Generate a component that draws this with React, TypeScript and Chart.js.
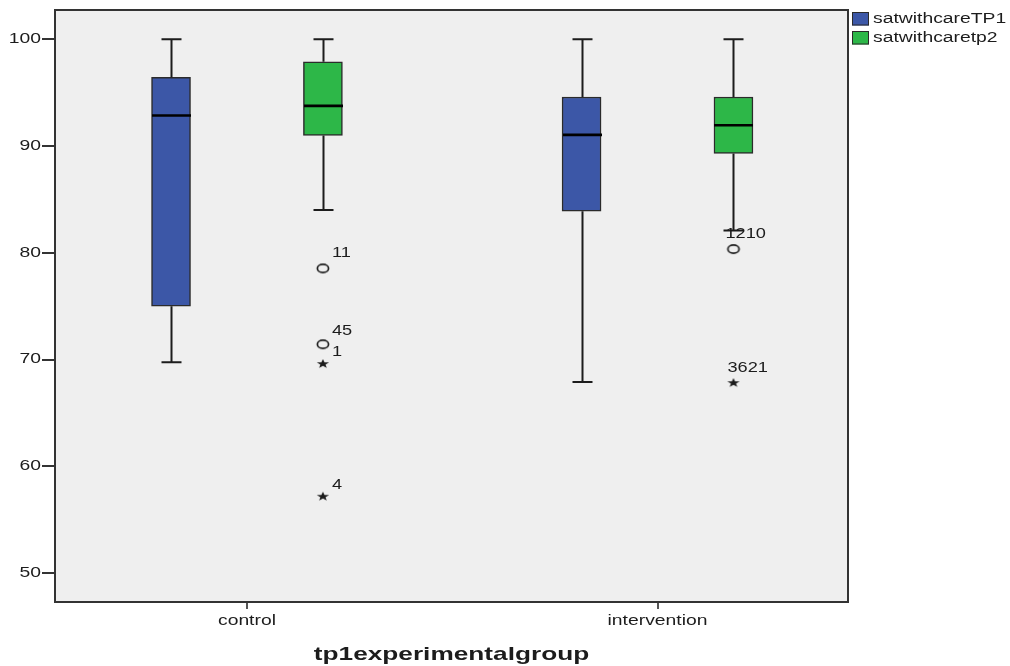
import React, { useEffect, useRef } from 'react';
import { Chart, registerables } from 'chart.js';

Chart.register(...registerables);

// ---- data ----
const groups = ['control', 'intervention'];
const seriesNames = ['satwithcareTP1', 'satwithcaretp2'];
const yTickValues = [50, 60, 70, 80, 90, 100];

// satwithcareTP1 five-number summaries per group
const tp1Low = [69.75, 67.9];
const tp1Q1 = [75.0, 83.9];
const tp1Median = [92.86, 91.05];
const tp1Q3 = [96.43, 94.6];
const tp1High = [100, 100];

// satwithcaretp2 five-number summaries per group
const tp2Low = [84.0, 82.1];
const tp2Q1 = [91.0, 89.3];
const tp2Median = [93.77, 91.95];
const tp2Q3 = [97.9, 94.6];
const tp2High = [100, 100];

// satwithcaretp2 outliers (circles) and extremes (stars), with case labels
const tp2OutlierGroup = [0, 0, 1];
const tp2OutlierValue = [78.54, 71.43, 80.35];
const tp2OutlierCase = ['11', '45', '1210'];
const tp2ExtremeGroup = [0, 0, 1];
const tp2ExtremeValue = [69.62, 57.19, 67.84];
const tp2ExtremeCase = ['1', '4', '3621'];

// ---- styling ----
const BLUE = '#3c57a7';
const GREEN = '#2db748';
const INK = '#1c1c1c';
const PLOT_BG = '#efefef';
const FONT = '"Liberation Sans", Arial, sans-serif';
const TEXT_SX = 1.38;
const SERIES_SHIFT = 0.185;
const outlierLabelShift = [[9, -15], [9, -13.5], [-8, -15]];
const extremeLabelShift = [[9, -11], [9, -11], [-6, -14]];

const seriesStats = [
  { low: tp1Low, q1: tp1Q1, med: tp1Median, q3: tp1Q3, high: tp1High, color: BLUE, shift: -SERIES_SHIFT },
  { low: tp2Low, q1: tp2Q1, med: tp2Median, q3: tp2Q3, high: tp2High, color: GREEN, shift: SERIES_SHIFT },
];

function stretchedText(ctx: CanvasRenderingContext2D, text: string, x: number, y: number, align: CanvasTextAlign, font: string, sx: number) {
  ctx.save();
  ctx.translate(x, y);
  ctx.scale(sx, 1);
  ctx.font = font;
  ctx.fillStyle = INK;
  ctx.textAlign = align;
  ctx.textBaseline = 'middle';
  ctx.fillText(text, 0, 0);
  ctx.restore();
}

function makeRing(): HTMLCanvasElement {
  const c = document.createElement('canvas');
  c.width = 16;
  c.height = 12;
  const g = c.getContext('2d')!;
  g.strokeStyle = INK;
  g.lineWidth = 1.7;
  g.beginPath();
  g.ellipse(8, 6, 5.6, 4.1, 0, 0, Math.PI * 2);
  g.stroke();
  return c;
}

function makeStar(): HTMLCanvasElement {
  const c = document.createElement('canvas');
  c.width = 14;
  c.height = 11;
  const g = c.getContext('2d')!;
  g.fillStyle = INK;
  g.translate(7, 5.8);
  g.scale(1.35, 1);
  g.beginPath();
  for (let i = 0; i < 10; i++) {
    const r = i % 2 === 0 ? 4.8 : 2.0;
    const a = -Math.PI / 2 + (i * Math.PI) / 5;
    const px = r * Math.cos(a);
    const py = r * Math.sin(a);
    if (i === 0) g.moveTo(px, py);
    else g.lineTo(px, py);
  }
  g.closePath();
  g.fill();
  return c;
}

const boxplotPlugin = {
  id: 'boxplotDecor',
  beforeDraw(chart: any) {
    const { ctx, chartArea: a } = chart;
    ctx.save();
    ctx.fillStyle = '#ffffff';
    ctx.fillRect(0, 0, chart.width, chart.height);
    ctx.fillStyle = PLOT_BG;
    ctx.fillRect(a.left, a.top, a.right - a.left, a.bottom - a.top);
    ctx.restore();
  },
  afterDatasetsDraw(chart: any) {
    const { ctx, scales } = chart;
    const xs = scales.x;
    const ys = scales.y;
    const boxW = 39;
    const capW = 20;
    ctx.save();
    seriesStats.forEach((s) => {
      groups.forEach((_, gi) => {
        const cx = Math.round(xs.getPixelForValue(gi + s.shift)) + 0.5;
        const yHigh = ys.getPixelForValue(s.high[gi]);
        const yQ3 = ys.getPixelForValue(s.q3[gi]);
        const yQ1 = ys.getPixelForValue(s.q1[gi]);
        const yLow = ys.getPixelForValue(s.low[gi]);
        const yMed = ys.getPixelForValue(s.med[gi]);
        ctx.strokeStyle = INK;
        ctx.lineWidth = 2;
        ctx.beginPath();
        ctx.moveTo(cx, yHigh);
        ctx.lineTo(cx, yQ3);
        ctx.moveTo(cx, yQ1);
        ctx.lineTo(cx, yLow);
        ctx.moveTo(cx - capW / 2, yHigh);
        ctx.lineTo(cx + capW / 2, yHigh);
        ctx.moveTo(cx - capW / 2, yLow);
        ctx.lineTo(cx + capW / 2, yLow);
        ctx.stroke();
        ctx.strokeStyle = '#000000';
        ctx.lineWidth = 2.6;
        ctx.beginPath();
        ctx.moveTo(cx - boxW / 2, yMed);
        ctx.lineTo(cx + boxW / 2, yMed);
        ctx.stroke();
      });
    });
    ctx.restore();
  },
  afterDraw(chart: any) {
    const { ctx, chartArea: a, scales } = chart;
    const xs = scales.x;
    const ys = scales.y;
    ctx.save();
    // plot frame
    ctx.strokeStyle = '#333333';
    ctx.lineWidth = 2;
    ctx.strokeRect(a.left, a.top, a.right - a.left, a.bottom - a.top);
    ctx.restore();

    const font14 = `14px ${FONT}`;
    // y tick labels
    yTickValues.forEach((v) => {
      stretchedText(ctx, String(v), a.left - 14, ys.getPixelForValue(v), 'right', font14, TEXT_SX);
    });
    // x tick labels
    groups.forEach((g, gi) => {
      stretchedText(ctx, g, xs.getPixelForValue(gi), a.bottom + 19, 'center', font14, TEXT_SX);
    });
    // axis title
    stretchedText(ctx, 'tp1experimentalgroup', (a.left + a.right) / 2, a.bottom + 53, 'center', `bold 19px ${FONT}`, TEXT_SX);

    // case labels next to outliers / extremes
    tp2OutlierGroup.forEach((gi, i) => {
      const px = xs.getPixelForValue(gi + SERIES_SHIFT);
      const py = ys.getPixelForValue(tp2OutlierValue[i]);
      const [dx, dy] = outlierLabelShift[i];
      stretchedText(ctx, tp2OutlierCase[i], px + dx, py + dy, 'left', font14, 1.3);
    });
    tp2ExtremeGroup.forEach((gi, i) => {
      const px = xs.getPixelForValue(gi + SERIES_SHIFT);
      const py = ys.getPixelForValue(tp2ExtremeValue[i]);
      const [dx, dy] = extremeLabelShift[i];
      stretchedText(ctx, tp2ExtremeCase[i], px + dx, py + dy, 'left', font14, 1.3);
    });

    // legend
    const lx = a.right + 4;
    [BLUE, GREEN].forEach((c, i) => {
      const ly = 12 + i * 19;
      ctx.save();
      ctx.fillStyle = c;
      ctx.fillRect(lx, ly, 17, 13.5);
      ctx.strokeStyle = '#2a2a2a';
      ctx.lineWidth = 1;
      ctx.strokeRect(lx + 0.5, ly + 0.5, 16, 12.5);
      ctx.restore();
      stretchedText(ctx, seriesNames[i], lx + 21, ly + 7, 'left', font14, TEXT_SX);
    });
  },
};

export default function App() {
  const canvasRef = useRef<HTMLCanvasElement | null>(null);

  useEffect(() => {
    document.body.style.margin = '0';
    const canvas = canvasRef.current;
    if (!canvas) return;
    const ring = makeRing();
    const star = makeStar();

    const boxDatasets = seriesStats.map((s, si) => ({
      type: 'bar' as const,
      label: seriesNames[si],
      data: groups.map((_, gi) => ({ x: gi + s.shift, y: [s.q1[gi], s.q3[gi]] })),
      backgroundColor: s.color,
      borderColor: '#2b2b2b',
      borderWidth: 1.5,
      borderSkipped: false,
      barThickness: 39,
      grouped: false,
    }));

    const chart = new Chart(canvas, {
      data: {
        datasets: [
          ...boxDatasets,
          {
            type: 'scatter' as const,
            label: 'outliers',
            data: tp2OutlierGroup.map((gi, i) => ({ x: gi + SERIES_SHIFT, y: tp2OutlierValue[i] })),
            pointStyle: ring,
            pointRadius: 6,
          },
          {
            type: 'scatter' as const,
            label: 'extremes',
            data: tp2ExtremeGroup.map((gi, i) => ({ x: gi + SERIES_SHIFT, y: tp2ExtremeValue[i] })),
            pointStyle: star,
            pointRadius: 6,
          },
        ] as any,
      },
      options: {
        animation: false,
        responsive: false,
        events: [],
        layout: { padding: { left: 42, top: 10, right: 162, bottom: 57 } },
        plugins: { legend: { display: false }, tooltip: { enabled: false } },
        scales: {
          x: {
            type: 'linear',
            min: -0.4676,
            max: 1.464,
            offset: false,
            afterBuildTicks: (scale: any) => {
              scale.ticks = groups.map((_, gi) => ({ value: gi }));
            },
            ticks: { display: false },
            border: { display: false },
            grid: { display: true, offset: false, drawOnChartArea: false, drawTicks: true, tickLength: 7, color: '#555555', lineWidth: 2 },
          },
          y: {
            type: 'linear',
            min: 47.28,
            max: 102.75,
            afterBuildTicks: (scale: any) => {
              scale.ticks = yTickValues.map((v) => ({ value: v }));
            },
            ticks: { display: false },
            border: { display: false },
            grid: { display: true, offset: false, drawOnChartArea: false, drawTicks: true, tickLength: 13, color: '#333333', lineWidth: 2 },
          },
        },
      } as any,
      plugins: [boxplotPlugin],
    });

    return () => chart.destroy();
  }, []);

  return (
    <div style={{ width: 1010, height: 666 }}>
      <canvas ref={canvasRef} width={1010} height={666} style={{ display: 'block' }} />
    </div>
  );
}
